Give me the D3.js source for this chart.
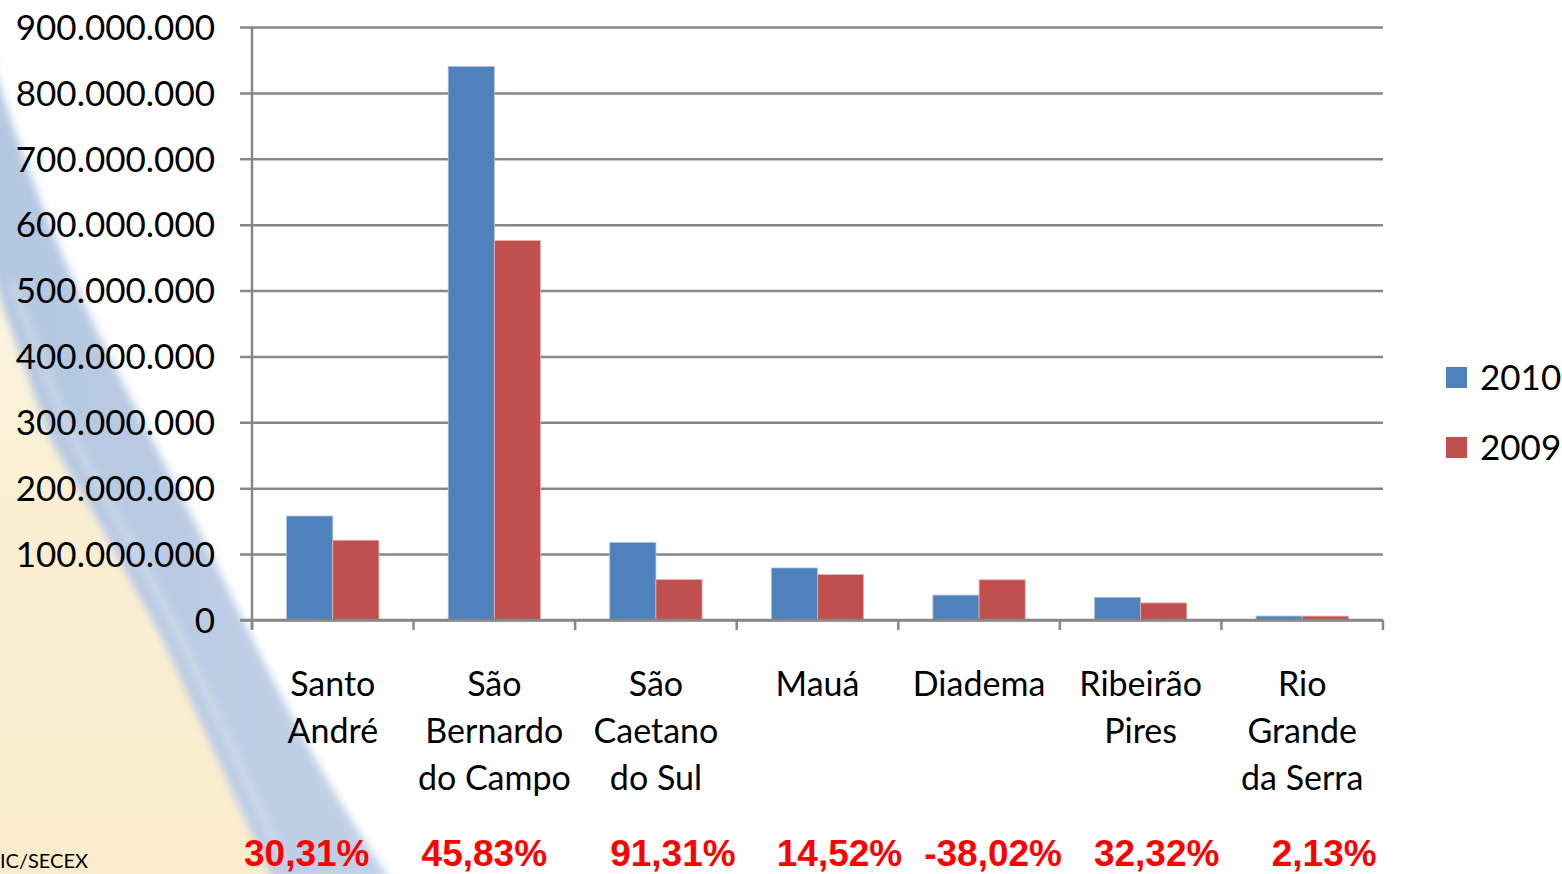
<!DOCTYPE html>
<html><head><meta charset="utf-8">
<script src="https://cdn.jsdelivr.net/npm/d3@7/dist/d3.min.js"></script>
<style>
html,body{margin:0;padding:0;background:#fff;}
svg{display:block;}
</style></head>
<body>
<svg id="chart" width="1562" height="874"></svg>
<script>
// ---- data ----
const categories = ["Santo André","São Bernardo do Campo","São Caetano do Sul","Mauá","Diadema","Ribeirão Pires","Rio Grande da Serra"];
const categoryLines = [["Santo","André"],["São","Bernardo","do Campo"],["São","Caetano","do Sul"],["Mauá"],["Diadema"],["Ribeirão","Pires"],["Rio","Grande","da Serra"]];
const seriesNames = ["2010","2009"];
const values2010 = [157.8e6, 840e6, 117.7e6, 79e6, 37.8e6, 34.4e6, 6.0e6];
const values2009 = [121.1e6, 576e6, 61.5e6, 69e6, 61e6, 26e6, 5.9e6];
const growthLabels = ["30,31%","45,83%","91,31%","14,52%","-38,02%","32,32%","2,13%"];
const yTicks = [0,100e6,200e6,300e6,400e6,500e6,600e6,700e6,800e6,900e6];
const sourceText = "IC/SECEX";

(function(){
// ---- layout ----
const colors = ["#4f81bd","#c0504d"];
const growthOffsets = [-26,-10,17,22,14,16,22];
const svg = d3.select("#chart");
const pLeft = 252, pRight = 1383, pTop = 27, pBottom = 620;

// background decoration
const defs = svg.append("defs");
defs.append("filter").attr("id","blur").attr("x","-20%").attr("y","-20%").attr("width","140%").attr("height","140%")
  .append("feGaussianBlur").attr("stdDeviation",4);
const cg = defs.append("linearGradient").attr("id","cream").attr("x1",0).attr("y1",0).attr("x2",0).attr("y2",1);
cg.append("stop").attr("offset","0%").attr("stop-color","#fdf6e4");
cg.append("stop").attr("offset","40%").attr("stop-color","#fbefd2");
cg.append("stop").attr("offset","100%").attr("stop-color","#fbedcb");
const bg = defs.append("linearGradient").attr("id","band").attr("x1",0).attr("y1",0).attr("x2",1).attr("y2",0);
bg.append("stop").attr("offset","0%").attr("stop-color","#b3c7e0");
bg.append("stop").attr("offset","100%").attr("stop-color","#c1d1e7");

const line = d3.line().curve(d3.curveBasis);
const leftEdge = [[0,300],[50,440],[108,540],[162,640],[222,770],[272,880]];
const rightEdge = [[0,90],[48,225],[98,335],[152,440],[202,535],[249,633],[317,767],[390,880]];
const deco = svg.append("g").attr("filter","url(#blur)");
deco.append("path")
  .attr("d", line([[-10,260]].concat(leftEdge)) + "L-10,880Z")
  .attr("fill","url(#cream)");
deco.append("path")
  .attr("d", line([[-10,50]].concat(rightEdge)) + "L" + leftEdge.slice().reverse().map(p=>p.join(",")).join("L") + "L-10,260Z")
  .attr("fill","url(#band)");
deco.append("path")
  .attr("d", line(leftEdge.map(p=>[p[0]+12,p[1]-18])))
  .attr("fill","none").attr("stroke","#dfe6ee").attr("stroke-width",5).attr("opacity",0.7);

// scales
const x0 = d3.scaleBand().domain(categories).range([pLeft,pRight]).padding(0);
const barW = x0.bandwidth()/3.5;
const x1 = d3.scaleBand().domain(seriesNames).range([0.75*barW, 2.75*barW]).padding(0);
const y = d3.scaleLinear().domain([0,900e6]).range([pBottom,pTop]);

const loc = d3.formatLocale({decimal:",",thousands:".",grouping:[3],currency:["",""]});
const fmt = loc.format(",.0f");

const gridColor = "#878787";
const yAxis = d3.axisLeft(y).tickValues(yTicks).tickFormat(fmt).tickSize(-(pRight-pLeft)).tickSizeOuter(0).tickPadding(37);
const gy = svg.append("g").attr("transform",`translate(${pLeft},0)`).call(yAxis);
gy.select(".domain").remove();
gy.selectAll(".tick line").attr("stroke",gridColor).attr("stroke-width",2.5).attr("x1",-12);
gy.selectAll(".tick text").attr("font-family","Lato, 'Open Sans', sans-serif").attr("font-size",35).attr("fill","#000").attr("dy","0.35em");

// bars
const data = categories.map((c,i)=>({c, vals:[values2010[i],values2009[i]]}));
const groups = svg.append("g").selectAll("g").data(data).join("g").attr("transform",d=>`translate(${x0(d.c)},0)`);
groups.selectAll("rect").data(d=>d.vals.map((v,j)=>({v,s:seriesNames[j],j}))).join("rect")
  .attr("x",d=>x1(d.s)).attr("width",x1.bandwidth())
  .attr("y",d=>y(d.v)).attr("height",d=>y(0)-y(d.v))
  .attr("fill",d=>colors[d.j]).attr("stroke",d=>d.j===0?"#a9c1e0":"#e8b4b2").attr("stroke-width",0.8);

svg.append("line").attr("x1",pLeft).attr("x2",pLeft).attr("y1",pTop).attr("y2",pBottom+9).attr("stroke",gridColor).attr("stroke-width",2.5);
svg.append("line").attr("x1",pLeft-12).attr("x2",pRight).attr("y1",pBottom).attr("y2",pBottom).attr("stroke",gridColor).attr("stroke-width",2.5);
const xTickPos = categories.map(c=>x0(c)).concat([pRight]);
svg.append("g").selectAll("line").data(xTickPos).join("line")
  .attr("x1",d=>d).attr("x2",d=>d).attr("y1",pBottom).attr("y2",pBottom+10)
  .attr("stroke",gridColor).attr("stroke-width",2.5);

// category labels
const catG = svg.append("g").attr("font-family","Lato, 'Open Sans', sans-serif").attr("font-size",34).attr("fill","#000").attr("text-anchor","middle");
categoryLines.forEach((lines,i)=>{
  const cx = x0(categories[i]) + x0.bandwidth()/2;
  const t = catG.append("text").attr("x",cx).attr("y",696);
  lines.forEach((l,k)=>t.append("tspan").attr("x",cx).attr("y",696+47*k).text(l));
});

// growth labels
svg.append("g").selectAll("text").data(growthLabels).join("text")
  .attr("x",(d,i)=>x0(categories[i]) + x0.bandwidth()/2 + growthOffsets[i])
  .attr("y",866).attr("text-anchor","middle")
  .attr("font-family","'Liberation Sans', Arial, sans-serif").attr("font-weight","bold")
  .attr("font-size",37).attr("fill","#ff0000").text(d=>d);

// legend
const leg = svg.append("g").selectAll("g").data(seriesNames).join("g")
  .attr("transform",(d,i)=>`translate(1446,${367+70*i})`);
leg.append("rect").attr("width",21).attr("height",21).attr("fill",(d,i)=>colors[i]);
leg.append("text").attr("x",34).attr("y",10.5).attr("dy","0.36em")
  .attr("font-family","Lato, 'Open Sans', sans-serif").attr("font-size",35).attr("fill","#000").text(d=>d);

svg.append("text").attr("x",0).attr("y",868).attr("text-anchor","start")
  .attr("font-family","Lato, 'Open Sans', sans-serif").attr("font-size",20).attr("fill","#000").text(sourceText);
})();
</script>
</body></html>
